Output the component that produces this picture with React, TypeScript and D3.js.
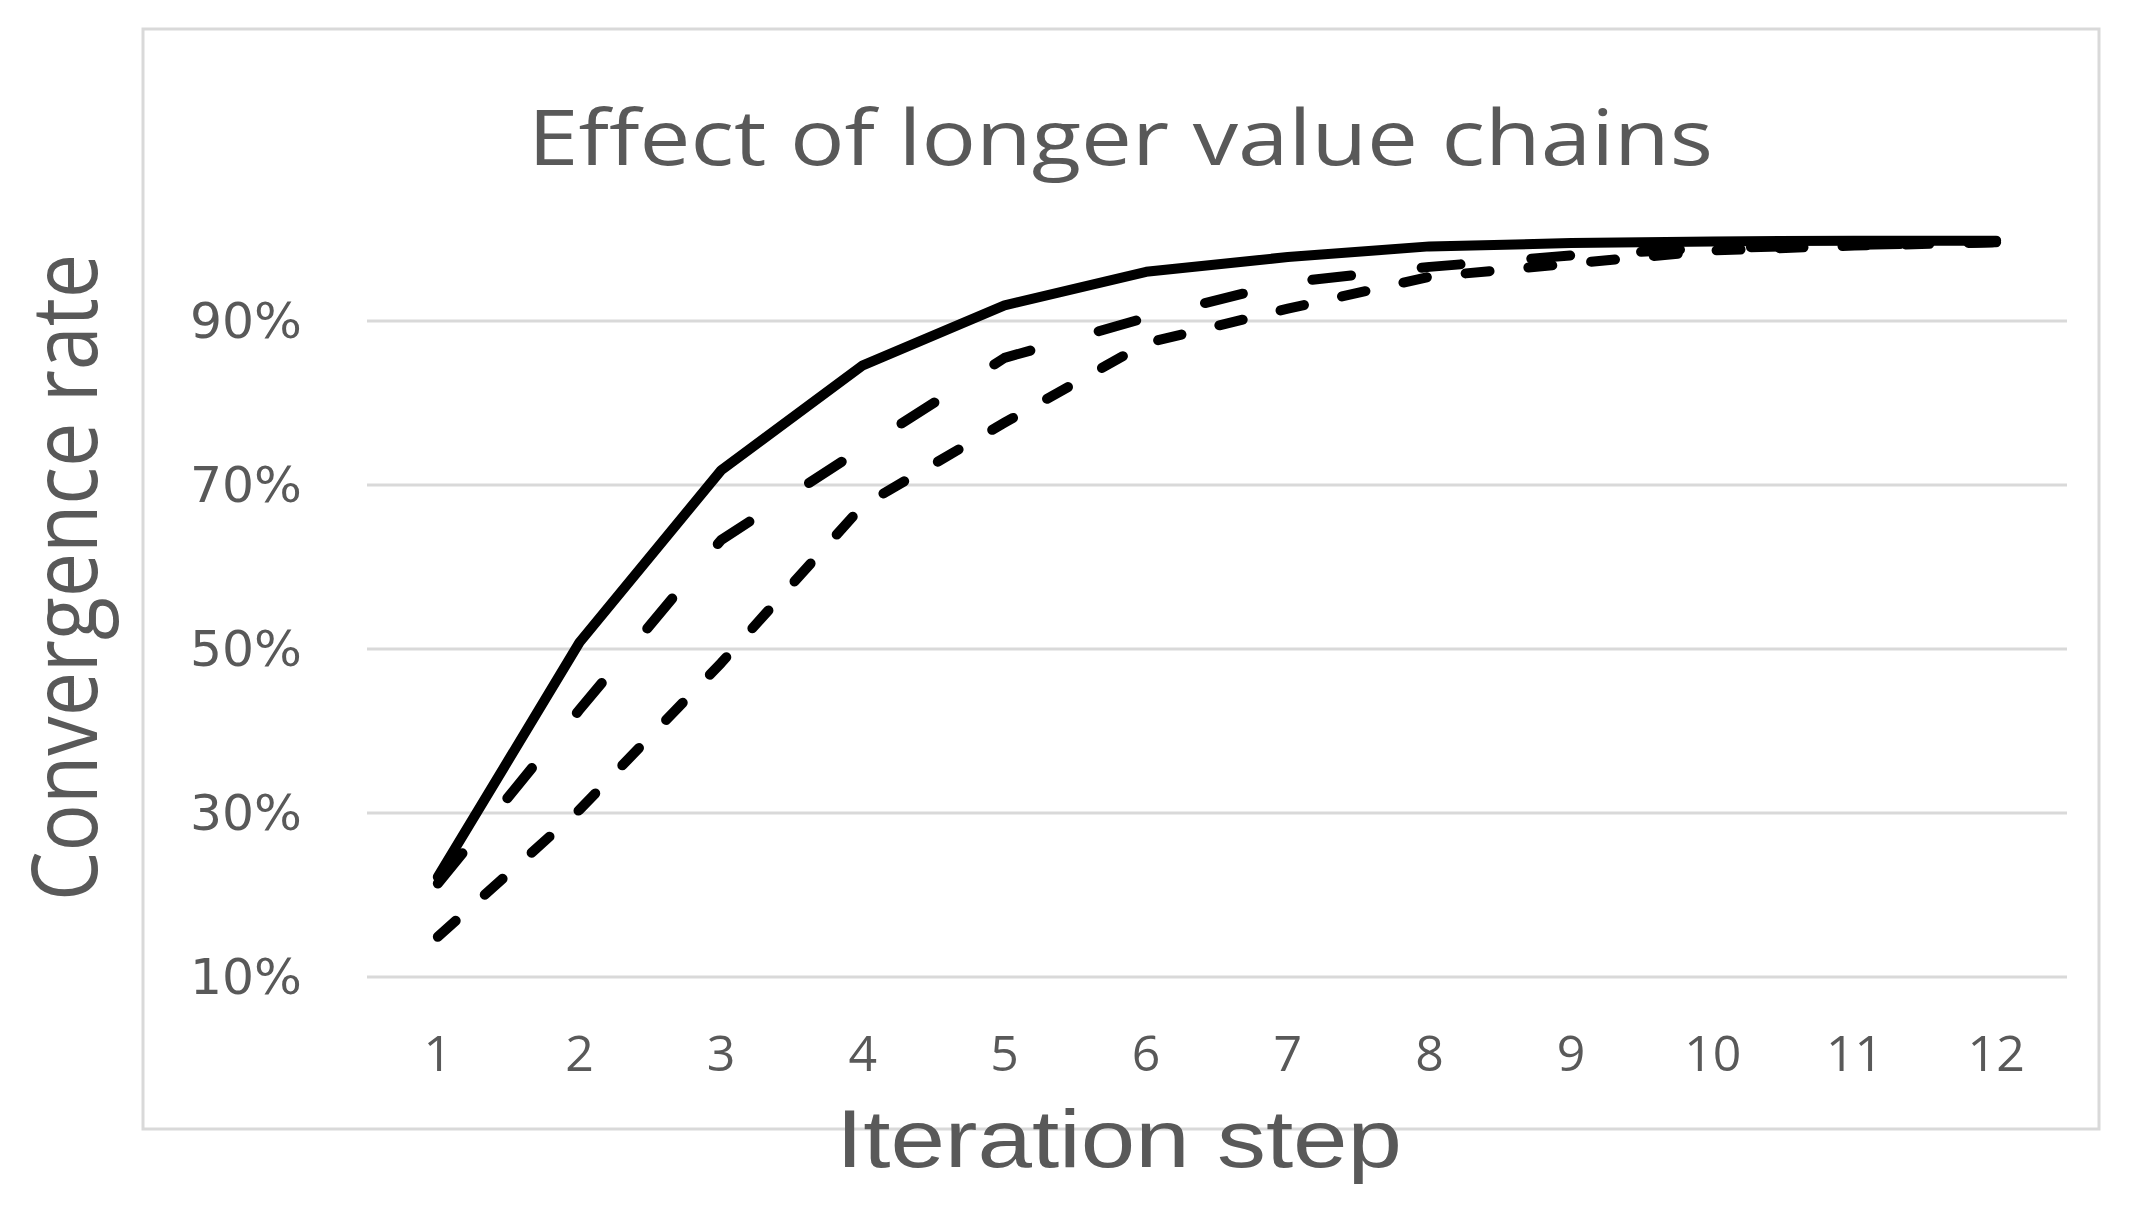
import React from "react";
import * as d3 from "d3";

const steps = [1, 2, 3, 4, 5, 6, 7, 8, 9, 10, 11, 12];
const solidSeries = [22.2, 50.8, 71.8, 84.6, 91.9, 96.0, 97.8, 99.1, 99.5, 99.7, 99.8, 99.8];
const longDashSeries = [21.4, 42.6, 63.3, 74.5, 85.5, 90.4, 94.7, 96.6, 98.0, 98.9, 99.3, 99.6];
const shortDashSeries = [14.9, 30.4, 48.3, 67.5, 77.6, 87.3, 91.5, 95.4, 97.0, 98.6, 99.2, 99.6];
const yTicks = [10, 30, 50, 70, 90];

const titleText = "Effect of longer value chains";
const xTitleText = "Iteration step";
const yTitleText = "Convergence rate";

export default function App() {
  const W = 2134;
  const H = 1206;
  const x = d3.scaleBand<number>().domain(steps).range([367, 2067]).padding(0);
  const y = d3.scaleLinear().domain([10, 100]).range([977, 239]);
  const cx = (d: number) => (x(d) as number) + x.bandwidth() / 2;

  const line = d3
    .line<number>()
    .x((_, i) => cx(steps[i]))
    .y((v) => y(v));

  const textColor = "#595959";
  const grid = "#d9d9d9";
  const series = [
    { data: solidSeries, dash: undefined as string | undefined },
    { data: longDashSeries, dash: "39 71" },
    { data: shortDashSeries, dash: "24 39" },
  ];

  return (
    <svg
      width={W}
      height={H}
      style={{ position: "absolute", left: 0, top: 0, display: "block", background: "#fff" }}
    >
      <rect x={0} y={0} width={W} height={H} fill="#fff" />
      <rect x={143} y={29} width={2099 - 143} height={1129 - 29} fill="#fff" stroke={grid} strokeWidth={3} />

      {yTicks.map((t) => (
        <g key={t}>
          <line x1={367} x2={2067} y1={y(t)} y2={y(t)} stroke={grid} strokeWidth={3} />
          <text
            x={190}
            y={y(t) + 17}
            fontFamily="DejaVu Sans"
            fontSize={50}
            fill={textColor}
            textLength={112}
            lengthAdjust="spacingAndGlyphs"
          >
            {t + "%"}
          </text>
        </g>
      ))}

      {steps.map((s) => (
        <text
          key={s}
          x={cx(s)}
          y={1071}
          textAnchor="middle"
          fontFamily="Open Sans"
          fontSize={50}
          fill={textColor}
        >
          {s}
        </text>
      ))}

      {series.map((sr, i) => (
        <path
          key={i}
          d={line(sr.data) as string}
          fill="none"
          stroke="#000"
          strokeWidth={10}
          strokeLinejoin="round"
          strokeLinecap="round"
          strokeDasharray={sr.dash}
        />
      ))}

      <text
        x={528}
        y={165}
        fontFamily="Open Sans"
        fontSize={76}
        fill={textColor}
        textLength={1185}
        lengthAdjust="spacingAndGlyphs"
      >
        {titleText}
      </text>

      <text
        x={836}
        y={1167}
        fontFamily="Liberation Sans"
        fontSize={82}
        fill={textColor}
        textLength={566}
        lengthAdjust="spacingAndGlyphs"
      >
        {xTitleText}
      </text>

      <text
        transform="translate(97,901) rotate(-90)"
        x={0}
        y={0}
        fontFamily="Open Sans"
        fontSize={92}
        fill={textColor}
        textLength={647}
        lengthAdjust="spacingAndGlyphs"
      >
        {yTitleText}
      </text>
    </svg>
  );
}
